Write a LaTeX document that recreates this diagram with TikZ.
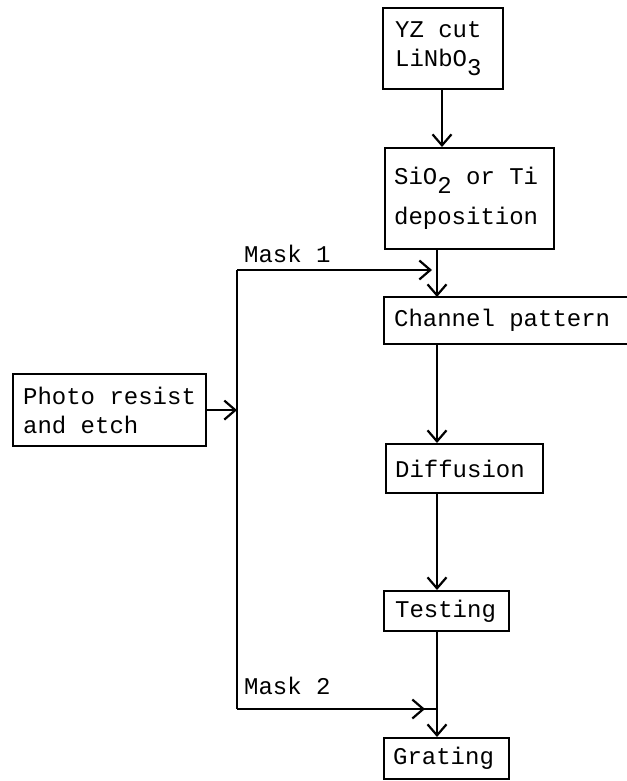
\documentclass[tikz,border=0pt]{standalone}
\usepackage{fontspec}
\setmainfont{Liberation Mono}[WordSpace={1,0,0}]
\usetikzlibrary{arrows.meta}
% fixed typewriter word gap
\newcommand{\gap}{\hspace*{0.6em}}
\begin{document}
\begin{tikzpicture}[x=1pt,y=-1pt,
  font=\fontsize{24}{29}\selectfont,
  line width=2.2pt,
  stepbox/.style={draw, rectangle, align=left, inner ysep=0pt, inner xsep=9pt, anchor=north west},
  plain/.style={rectangle, align=left, inner ysep=0pt, inner xsep=9pt, anchor=north west},
  arr/.style={-{Straight Barb[length=11pt,width=19pt,line width=2.2pt]}},
  lbl/.style={anchor=base west, inner sep=0pt}]
\useasboundingbox (0,0) rectangle (626,781);

% process boxes (fixed sizes, text set at the left)
\node[stepbox, inner xsep=12pt, minimum width=120pt, minimum height=81pt, text width=96pt] (yz) at (382,7)
  {YZ\gap cut\\LiNbO\raisebox{-9pt}{3}};
\node[stepbox, minimum width=169pt, minimum height=101pt, text width=151pt] (sio) at (384,147)
  {SiO\raisebox{-9pt}{2}\gap or\gap Ti\\[11pt]deposition};
\node[plain, minimum width=242pt, minimum height=45pt, text width=224pt] (chan) at (384,297)
  {Channel\gap pattern};
\node[stepbox, minimum width=157pt, minimum height=49pt, text width=139pt] (diff) at (385,443)
  {Diffusion};
\node[stepbox, inner xsep=11pt, minimum width=125pt, minimum height=40pt, text width=103pt] (test) at (383,590)
  {Testing};
\node[stepbox, minimum width=125pt, minimum height=41pt, text width=107pt] (grat) at (383,737)
  {Grating};
\node[stepbox, inner xsep=10pt, minimum width=193pt, minimum height=72pt, text width=173pt] (photo) at (12,373)
  {Photo\gap resist\\and\gap etch};

% the channel-pattern box runs off the right edge: three sides only
\draw (chan.north east) -- (chan.north west) -- (chan.south west) -- (chan.south east);

% routing points
\coordinate (spine) at (437,0);
\coordinate (vtop) at (237,270);
\coordinate (vbot) at (237,709);
\coordinate (j1) at (437,270);
\coordinate (j2) at (437,709);

% main flow
\draw[arr] (yz.south -| 442,0) -- (sio.north -| 442,0);
\draw[arr] (sio.south -| spine) -- (chan.north -| spine);
\draw[arr] (chan.south -| spine) -- (diff.north -| spine);
\draw[arr] (diff.south -| spine) -- (test.north -| spine);
\draw[arr] (test.south -| spine) -- (grat.north -| spine);

% mask feed from photo resist
\draw (vtop) -- (vbot);
\draw[arr] (photo.east) -- (photo.east -| vtop);
\draw[arr, shorten >=5pt] (vtop) -- (j1);
\draw[arr, shorten >=12pt] (vbot) -- (j2);
\draw (vbot) -- (j2);

\node[lbl] (m1) at (243,262) {Mask\gap 1};
\node[lbl] (m2) at (243,694) {Mask\gap 2};
\end{tikzpicture}
\end{document}
